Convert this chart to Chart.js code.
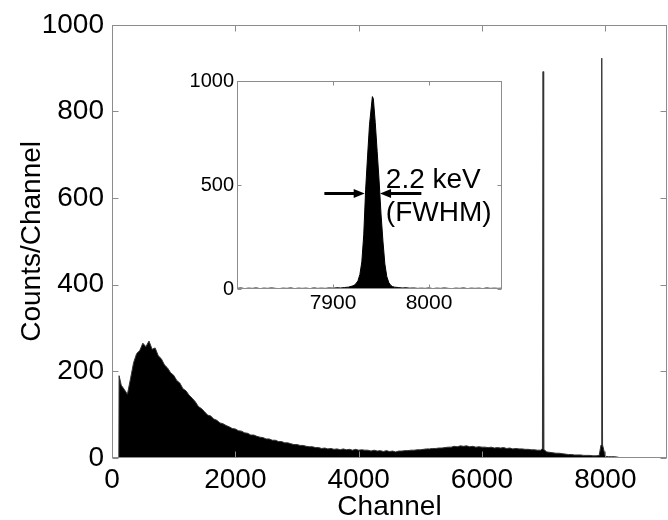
<!DOCTYPE html>
<html><head><meta charset="utf-8">
<script src="https://cdn.jsdelivr.net/npm/chart.js@4/dist/chart.umd.min.js"></script>
<style>
html,body{margin:0;padding:0;background:#fff;}
#wrap{position:relative;width:668px;height:520px;overflow:hidden;}
#main{position:absolute;left:0;top:0;}
#inset{position:absolute;left:180px;top:66px;}
</style></head><body>
<div id="wrap"><canvas id="main" width="668" height="520"></canvas><canvas id="inset" width="330" height="264"></canvas></div>
<script>
// ---- main spectrum ----
const channels = [110,115,150,200,250,300,350,400,450,500,550,600,650,700,750,800,850,900,950,1000,
1050,1100,1150,1200,1250,1300,1350,1400,1450,1500,1550,1600,1650,1700,1750,1800,1850,1900,1950,2000,
2050,2100,2150,2200,2250,2300,2350,2400,2450,2500,2550,2600,2650,2700,2750,2800,2850,2900,2950,3000,
3050,3100,3150,3200,3250,3300,3350,3400,3450,3500,3550,3600,3650,3700,3750,3800,3850,3900,3950,4000,
4050,4100,4150,4200,4250,4300,4350,4400,4450,4500,4550,4600,4650,4700,4750,4800,4850,4900,4950,5000,
5050,5100,5150,5200,5250,5300,5350,5400,5450,5500,5550,5600,5650,5700,5750,5800,5850,5900,5950,6000,
6050,6100,6150,6200,6250,6300,6350,6400,6450,6500,6550,6600,6650,6700,6750,6800,6850,6900,6950,6980,
6990,7000,7050,7100,7150,7200,7250,7300,7350,7400,7450,7500,7550,7600,7650,7700,7750,7800,7850,7900,
7930,7942,7955,8000,8050,8100,8150,8200,8250];
const counts = [0,190,168,158,147,183,220,241,248,265,257,270,251,254,236,229,215,208,197,191,
179,173,160,155,145,138,130,119,114,107,99,97,90,87,81,79,75,72,68,67,
63,62,58,57,53,53,50,48,47,44,44,41,41,38,38,35,35,33,31,31,
29,29,27,26,26,24,24,22,23,21,22,20,21,19,21,19,20,18,20,18,
19,18,18,16,18,16,17,15,17,15,16,14,16,16,17,17,18,18,19,19,
20,21,21,22,22,23,23,24,25,25,27,26,28,27,28,26,27,25,26,25,
25,24,25,23,24,23,24,22,23,21,22,21,21,20,20,19,19,18,18,22,
892,20,14,13,12,11,11,10,9,8,8,7,7,7,6,6,6,5,5,6,
30,923,30,4,3,3,3,2,0];
const xTicks = [0,2000,4000,6000,8000];
const yTicks = [0,200,400,600,800,1000];

// ---- inset (zoom on the 7942 peak) ----
const insetChannels = [7800,7804,7808,7812,7816,7820,7824,7828,7832,7836,7840,7844,7848,7852,7856,7860,7864,7868,7872,7876,
7880,7884,7888,7892,7896,7900,7904,7908,7912,7916,7920,7922,7924,7926,7928,7930,7932,7934,7936,7938,
7940,7941,7942,7944,7946,7948,7950,7952,7954,7956,7958,7960,7962,7964,7968,7972,7976,7980,7984,7988,
7992,7996,8000,8004,8008,8012,8016,8020,8024,8028,8032,8036,8040,8044,8048,8052,8056,8060,8064,8068,
8072,8076];
const insetCounts = [3,5,2,4,3,5,2,4,3,5,3,2,4,3,5,2,4,3,4,2,
5,3,4,3,5,4,6,5,7,9,14,18,26,40,70,130,260,480,640,790,
880,925,915,800,660,520,360,230,120,60,32,18,12,9,7,5,6,4,5,3,
4,3,5,2,4,3,5,3,2,4,3,5,2,4,3,4,2,5,3,4,
3,4];
const insetXTicks = [7900,8000];
const insetYTicks = [0,500,1000];
const noteLines = ['2.2 keV','(FWHM)'];
const noteAt = {x:7955, y:[487,328]};
const fwhmY = 459;
const arrowLeft = [7891,7933];
const arrowRight = [7992,7949];

const FONT = '"Liberation Sans", Arial, Helvetica, sans-serif';
Chart.defaults.font.family = FONT;
Chart.defaults.color = '#000';
const AXIS = '#8c8c8c';
const plain = v => String(v);

function framePlugin(xt, yt, len){
  return {id:'frame', afterDatasetsDraw(chart){
    const {ctx, chartArea:a, scales:{x,y}} = chart;
    ctx.save();
    ctx.strokeStyle = AXIS; ctx.lineWidth = 1;
    const L=Math.round(a.left)+0.5, R=Math.round(a.right)-0.5, T=Math.round(a.top)+0.5, B=Math.round(a.bottom)-0.5;
    ctx.strokeRect(L,T,R-L,B-T);
    ctx.beginPath();
    xt.forEach(v=>{const p=Math.round(x.getPixelForValue(v))+0.5; ctx.moveTo(p,B); ctx.lineTo(p,B-len); ctx.moveTo(p,T); ctx.lineTo(p,T+len);});
    yt.forEach(v=>{const p=Math.round(y.getPixelForValue(v))+0.5; ctx.moveTo(L,p); ctx.lineTo(L+len,p); ctx.moveTo(R,p); ctx.lineTo(R-len,p);});
    ctx.stroke();
    ctx.restore();
  }};
}

new Chart(document.getElementById('main'), {
  type:'line',
  data:{datasets:[{data:channels.map((c,i)=>({x:c,y:counts[i]})), fill:'origin', backgroundColor:'#000', borderColor:'#333', borderWidth:1, pointRadius:0, tension:0}]},
  options:{
    responsive:false, animation:false, devicePixelRatio:1,
    layout:{padding:{top:21,right:1,left:0,bottom:0}},
    plugins:{legend:{display:false}, tooltip:{enabled:false}},
    scales:{
      x:{type:'linear', min:0, max:9000,
        afterBuildTicks:s=>{s.ticks = xTicks.map(v=>({value:v}));},
        afterFit:s=>{s.height = 62;},
        grid:{display:false, drawTicks:false}, border:{display:false},
        ticks:{font:{size:28}, padding:5, maxRotation:0, autoSkip:false, callback:plain},
        title:{display:true, text:'Channel', font:{size:28, lineHeight:0.9}, padding:{top:0,bottom:0}}},
      y:{type:'linear', min:0, max:1000,
        afterBuildTicks:s=>{s.ticks = yTicks.map(v=>({value:v}));},
        afterFit:s=>{s.width = 112;},
        grid:{display:false, drawTicks:false}, border:{display:false},
        ticks:{font:{size:28}, padding:8, callback:plain},
        title:{display:true, text:'Counts/Channel', font:{size:28}, padding:{top:15,bottom:0}}}
    }
  },
  plugins:[framePlugin(xTicks, yTicks, 6)]
});

const notePlugin = {id:'note', afterDatasetsDraw(chart){
  const {ctx, scales:{x,y}} = chart;
  ctx.save();
  ctx.fillStyle='#000'; ctx.strokeStyle='#000';
  ctx.font = '28px ' + FONT; ctx.textAlign='left'; ctx.textBaseline='alphabetic';
  noteLines.forEach((t,i)=>ctx.fillText(t, x.getPixelForValue(noteAt.x), y.getPixelForValue(noteAt.y[i])));
  const py = y.getPixelForValue(fwhmY);
  [arrowLeft, arrowRight].forEach(([a,b])=>{
    const x0=x.getPixelForValue(a), x1=x.getPixelForValue(b), d=Math.sign(x1-x0);
    ctx.lineWidth=3; ctx.beginPath(); ctx.moveTo(x0,py); ctx.lineTo(x1-d*8,py); ctx.stroke();
    ctx.beginPath(); ctx.moveTo(x1,py); ctx.lineTo(x1-d*11,py-4.5); ctx.lineTo(x1-d*11,py+4.5); ctx.closePath(); ctx.fill();
  });
  ctx.restore();
}};

new Chart(document.getElementById('inset'), {
  type:'line',
  data:{datasets:[{data:insetChannels.map((c,i)=>({x:c,y:insetCounts[i]})), fill:'origin', backgroundColor:'#000', borderColor:'#000', borderWidth:1, pointRadius:0, tension:0}]},
  options:{
    responsive:false, animation:false, devicePixelRatio:1,
    layout:{padding:{top:14,right:8,left:0,bottom:0}},
    plugins:{legend:{display:false}, tooltip:{enabled:false}},
    scales:{
      x:{type:'linear', min:7800, max:8076,
        afterBuildTicks:s=>{s.ticks = insetXTicks.map(v=>({value:v}));},
        afterFit:s=>{s.height = 41;},
        grid:{display:false, drawTicks:false}, border:{display:false},
        ticks:{font:{size:21}, padding:2, maxRotation:0, autoSkip:false, callback:plain}},
      y:{type:'linear', min:0, max:1000,
        afterBuildTicks:s=>{s.ticks = insetYTicks.map(v=>({value:v}));},
        afterFit:s=>{s.width = 57;},
        grid:{display:false, drawTicks:false}, border:{display:false},
        ticks:{font:{size:20}, padding:3, callback:plain}}
    }
  },
  plugins:[framePlugin(insetXTicks, insetYTicks, 4), notePlugin]
});
</script>
</body></html>
